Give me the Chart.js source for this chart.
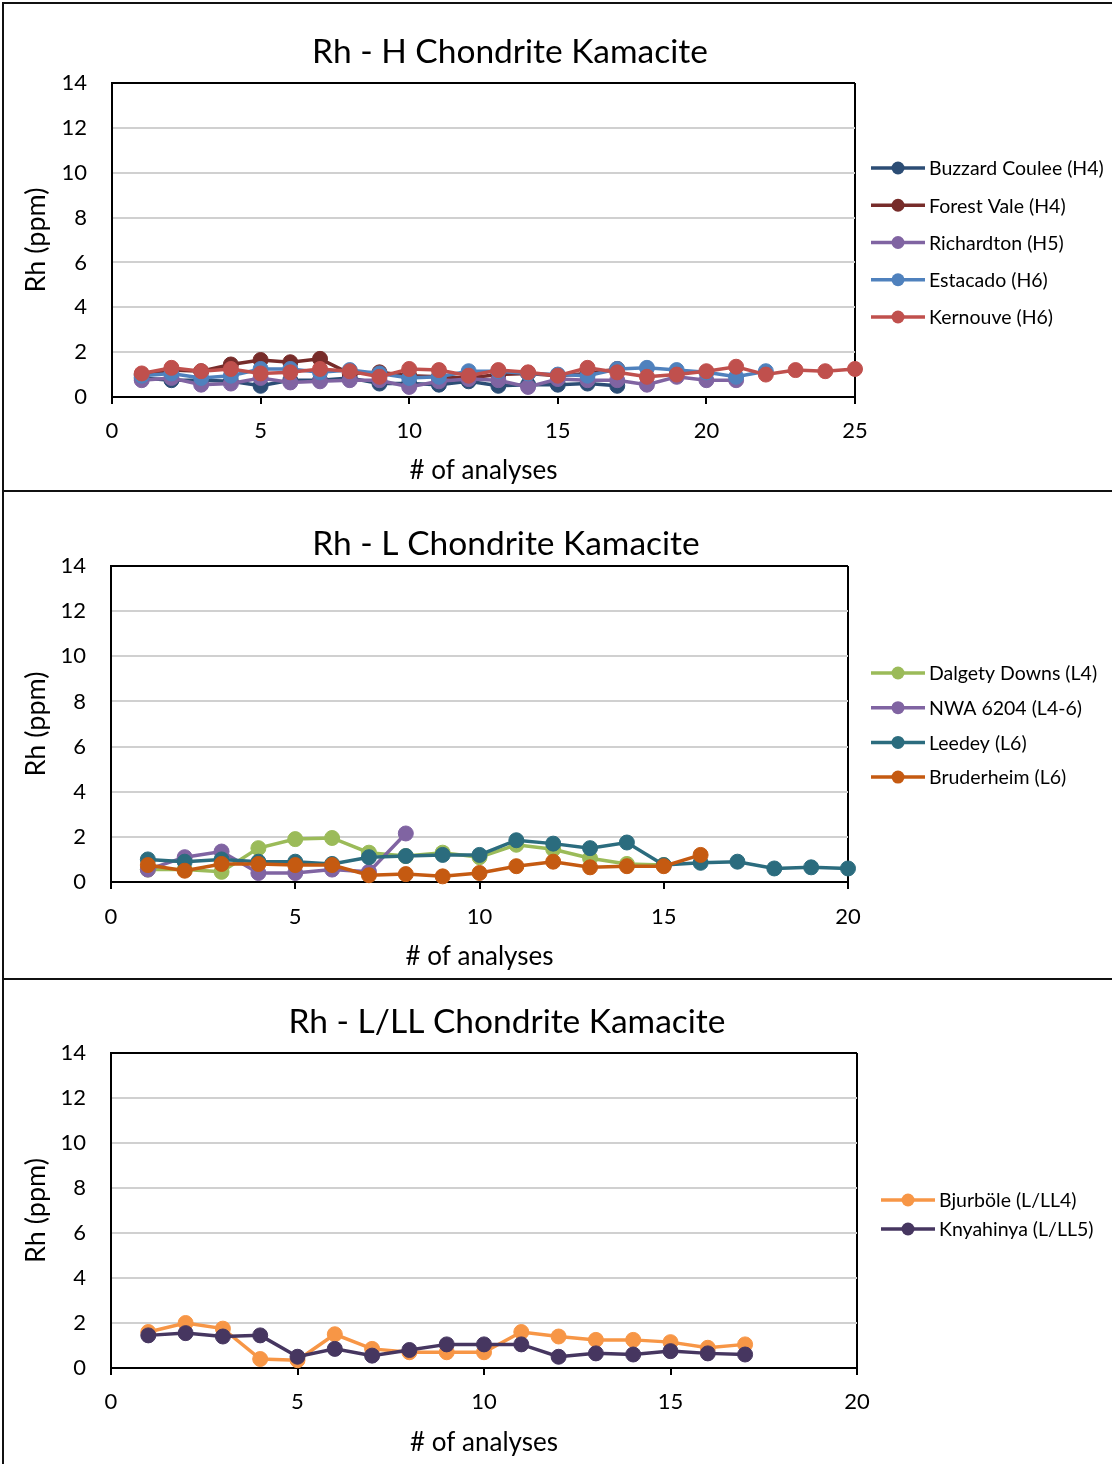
<!DOCTYPE html>
<html>
<head>
<meta charset="utf-8">
<title>Rh in chondrite kamacite</title>
<script src="https://cdn.jsdelivr.net/npm/chart.js@4.4.1/dist/chart.umd.min.js"></script>
<style>
  html, body { margin: 0; padding: 0; background: #fff; width: 1112px; height: 1464px; overflow: hidden; }
  canvas { position: absolute; left: 0; }
  .rule { position: absolute; background: #111; }
</style>
</head>
<body>
<canvas id="chartH" width="1112" height="488" style="top:0px"></canvas>
<canvas id="chartL" width="1112" height="488" style="top:488px"></canvas>
<canvas id="chartLL" width="1112" height="488" style="top:976px"></canvas>

<div class="rule" style="left:2px; top:2px; width:1110px; height:2px"></div>
<div class="rule" style="left:2px; top:2px; width:2px; height:1462px"></div>
<div class="rule" style="left:2px; top:490px; width:1110px; height:2px"></div>
<div class="rule" style="left:2px; top:978px; width:1110px; height:2px"></div>

<script>
// ---- H chondrites ----
const hTitle = 'Rh - H Chondrite Kamacite';
const hNames = ['Buzzard Coulee (H4)', 'Forest Vale (H4)', 'Richardton (H5)', 'Estacado (H6)', 'Kernouve (H6)'];
const buzzardCoulee = [0.85, 0.75, 0.75, 0.7, 0.5, 0.75, 0.75, 0.85, 0.6, 0.6, 0.55, 0.7, 0.5, 0.55, 0.55, 0.6, 0.5];
const forestVale    = [1.0, 1.2, 1.15, 1.45, 1.65, 1.55, 1.7, 1.05, 1.1, 0.95, 0.9, 0.85, 1.0, 1.05, 0.95, 1.05, 1.25];
const richardton    = [0.75, 0.85, 0.55, 0.6, 0.85, 0.65, 0.7, 0.75, 0.75, 0.45, 0.7, 0.8, 0.75, 0.45, 0.8, 0.75, 0.75, 0.55, 0.9, 0.75, 0.75];
const estacado      = [0.95, 1.05, 0.85, 0.95, 1.25, 1.25, 1.1, 1.2, 1.05, 0.85, 0.9, 1.15, 1.15, 1.05, 1.0, 0.95, 1.25, 1.3, 1.2, 1.1, 0.9, 1.15];
const kernouve      = [1.05, 1.3, 1.15, 1.25, 1.05, 1.1, 1.25, 1.15, 0.9, 1.25, 1.2, 0.95, 1.2, 1.1, 0.95, 1.3, 1.1, 0.9, 1.0, 1.15, 1.35, 1.0, 1.2, 1.15, 1.25];

// ---- L chondrites ----
const lTitle = 'Rh - L Chondrite Kamacite';
const lNames = ['Dalgety Downs (L4)', 'NWA 6204 (L4-6)', 'Leedey (L6)', 'Bruderheim (L6)'];
const dalgetyDowns = [0.55, 0.55, 0.45, 1.5, 1.9, 1.95, 1.3, 1.15, 1.3, 1.1, 1.65, 1.45, 1.05, 0.8, 0.75];
const nwa6204      = [0.55, 1.1, 1.35, 0.4, 0.4, 0.55, 0.45, 2.15];
const leedey       = [1.0, 0.9, 1.0, 0.9, 0.9, 0.8, 1.1, 1.15, 1.2, 1.2, 1.85, 1.7, 1.5, 1.75, 0.75, 0.85, 0.9, 0.6, 0.65, 0.6];
const bruderheim   = [0.75, 0.5, 0.8, 0.8, 0.75, 0.75, 0.3, 0.35, 0.25, 0.4, 0.7, 0.9, 0.65, 0.7, 0.7, 1.2];

// ---- L/LL chondrites ----
const llTitle = 'Rh - L/LL Chondrite Kamacite';
const llNames = ['Bjurböle (L/LL4)', 'Knyahinya (L/LL5)'];
const bjurbole  = [1.6, 2.0, 1.75, 0.4, 0.35, 1.5, 0.85, 0.7, 0.7, 0.7, 1.6, 1.4, 1.25, 1.25, 1.15, 0.9, 1.05];
const knyahinya = [1.45, 1.55, 1.4, 1.45, 0.5, 0.85, 0.55, 0.8, 1.05, 1.05, 1.05, 0.5, 0.65, 0.6, 0.75, 0.65, 0.6];

// shared axis labels
const yAxisTitle = 'Rh (ppm)';
const xAxisTitle = '# of analyses';
const yMax = 14, yStep = 2, xStep = 5;

const FONT = 'Lato, "Open Sans", sans-serif';
const GRID_GREY = '#d0d0d0';

// Title and line-with-marker legend for each panel
const panelText = {
  id: 'panelText',
  afterDraw(chart, args, o) {
    const ctx = chart.ctx;
    ctx.save();
    ctx.fillStyle = '#000';
    ctx.textAlign = 'center';
    ctx.textBaseline = 'middle';
    ctx.font = o.titleSize + 'px ' + FONT;
    ctx.fillText(o.title, o.titleX, o.titleY);

    ctx.font = o.legendSize + 'px ' + FONT;
    ctx.textAlign = 'left';
    chart.data.datasets.forEach((ds, i) => {
      const y = o.legendY + i * o.legendGap;
      ctx.strokeStyle = ds.borderColor;
      ctx.lineWidth = ds.borderWidth;
      ctx.beginPath();
      ctx.moveTo(o.legendX, y);
      ctx.lineTo(o.legendX + 54, y);
      ctx.stroke();
      ctx.fillStyle = ds.borderColor;
      ctx.beginPath();
      ctx.arc(o.legendX + 27, y, 6.5, 0, Math.PI * 2);
      ctx.fill();
      ctx.fillStyle = '#000';
      ctx.fillText(ds.label, o.legendX + 58, y + 1);
    });
    ctx.restore();
  }
};

function series(names, colors, values) {
  const n = names.length;
  return names.map((name, i) => ({
    label: name,
    data: values[i].map((v, k) => ({ x: k + 1, y: v })),
    borderColor: colors[i],
    backgroundColor: colors[i],
    pointBackgroundColor: colors[i],
    pointBorderColor: colors[i],
    borderWidth: 3.5,
    pointRadius: 7.5,
    pointBorderWidth: 1,
    tension: 0,
    clip: false,
    order: n - i
  }));
}

function makePanel(id, p) {
  return new Chart(document.getElementById(id), {
    type: 'line',
    data: { datasets: series(p.names, p.colors, p.values) },
    options: {
      responsive: false,
      animation: false,
      devicePixelRatio: 1,
      layout: { padding: { left: 0, top: p.area.top, right: 1112 - p.area.right, bottom: 0 } },
      plugins: {
        legend: { display: false },
        title: { display: false },
        tooltip: { enabled: false },
        panelText: {
          title: p.title, titleX: p.titleX, titleY: p.titleY, titleSize: 33.5,
          legendX: p.legendX, legendY: p.legendY, legendGap: p.legendGap, legendSize: 19.5
        }
      },
      scales: {
        x: {
          type: 'linear',
          min: 0, max: p.xMax,
          afterFit: s => { s.height = 488 - p.area.bottom; },
          ticks: { stepSize: xStep, padding: p.xTickPad, color: '#000', font: { family: FONT, size: 22 } },
          grid: {
            drawOnChartArea: true,
            color: c => (c.tick && c.tick.value === p.xMax) ? '#000' : 'rgba(0,0,0,0)',
            lineWidth: 2,
            tickColor: '#000',
            tickLength: 7,
            tickWidth: 2
          },
          border: { display: true, color: '#000', width: 2 },
          title: {
            display: true, text: xAxisTitle, color: '#000',
            font: { family: FONT, size: 26 }, padding: { top: 0, bottom: p.xTitlePad }
          }
        },
        y: {
          min: 0, max: yMax,
          afterFit: s => { s.width = p.area.left; },
          ticks: { stepSize: yStep, padding: 25, color: '#000', font: { family: FONT, size: 22 } },
          grid: {
            drawTicks: false,
            color: c => (c.tick && (c.tick.value === yMax || c.tick.value === 0)) ? '#000' : GRID_GREY,
            lineWidth: 2
          },
          border: { display: true, color: '#000', width: 2 },
          title: {
            display: true, text: yAxisTitle, color: '#000',
            font: { family: FONT, size: 27 }, padding: { top: 20, bottom: 0 }
          }
        }
      }
    },
    plugins: [panelText]
  });
}

makePanel('chartH', {
  title: hTitle, titleX: 510, titleY: 52,
  names: hNames,
  colors: ['#2C4D75', '#772C2A', '#8064A2', '#4F81BD', '#C0504D'],
  values: [buzzardCoulee, forestVale, richardton, estacado, kernouve],
  xMax: 25,
  area: { left: 112, top: 83, right: 855, bottom: 397 },
  xTickPad: 14, xTitlePad: 1.5,
  legendX: 871, legendY: 168, legendGap: 37.25
});

makePanel('chartL', {
  title: lTitle, titleX: 506, titleY: 56,
  names: lNames,
  colors: ['#9BBB59', '#8064A2', '#2B6C7E', '#C55A11'],
  values: [dalgetyDowns, nwa6204, leedey, bruderheim],
  xMax: 20,
  area: { left: 111, top: 78, right: 848, bottom: 394 },
  xTickPad: 15, xTitlePad: 3.5,
  legendX: 871, legendY: 185, legendGap: 34.7
});

makePanel('chartLL', {
  title: llTitle, titleX: 507, titleY: 46,
  names: llNames,
  colors: ['#F79646', '#463660'],
  values: [bjurbole, knyahinya],
  xMax: 20,
  area: { left: 111, top: 77, right: 857, bottom: 392 },
  xTickPad: 14, xTitlePad: 5.5,
  legendX: 881, legendY: 224, legendGap: 29
});
</script>
</body>
</html>
